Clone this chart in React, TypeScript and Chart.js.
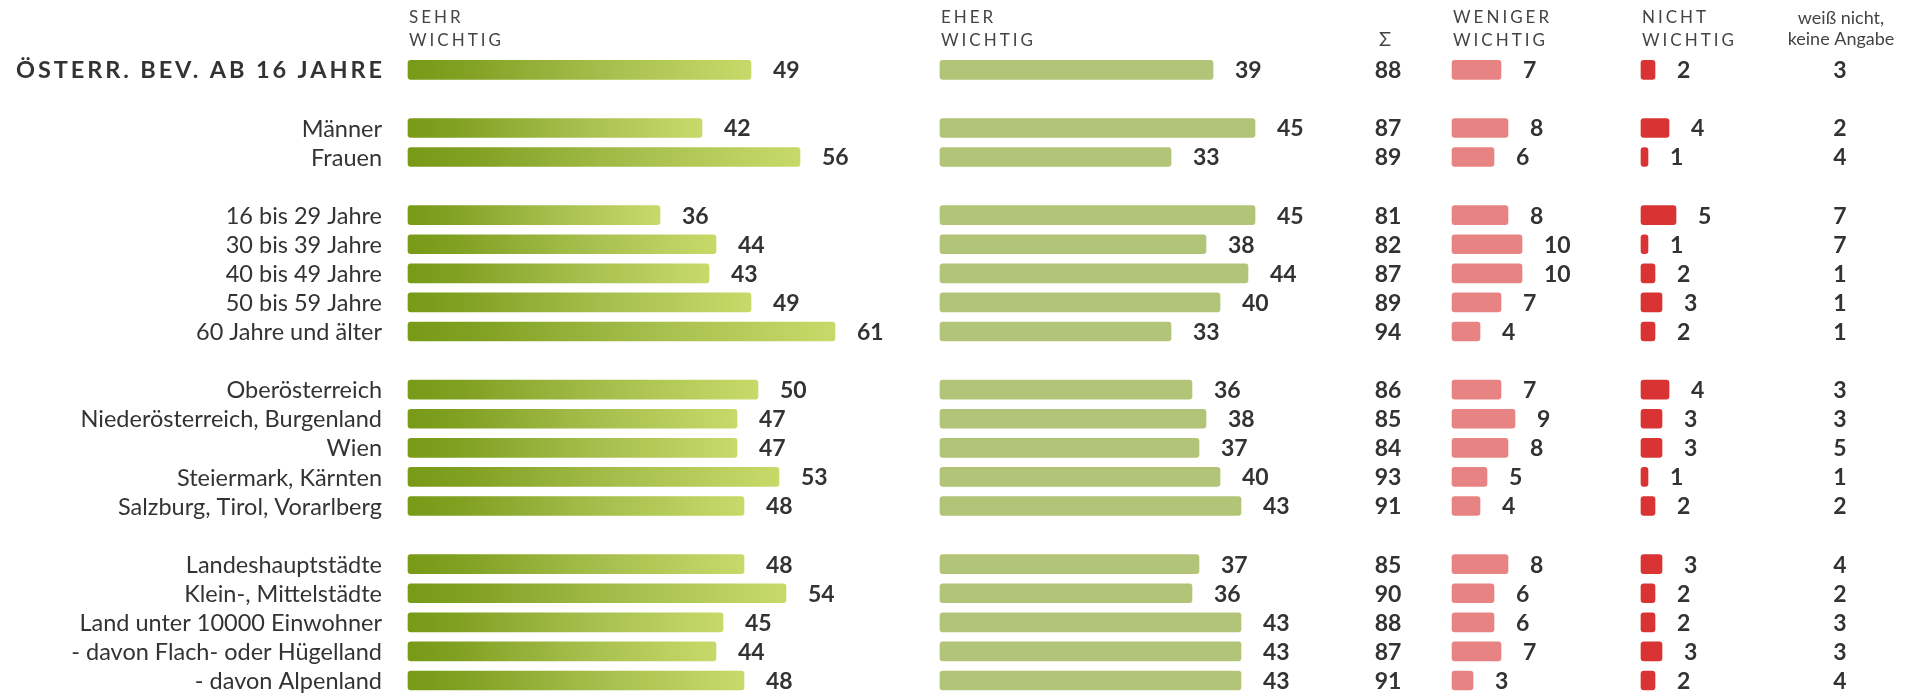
import React, { useEffect, useRef } from 'react';
import { Chart, registerables } from 'chart.js';

Chart.register(...registerables);

// ---------- data ----------
const rowLabels = [
  'ÖSTERR. BEV. AB 16 JAHRE', '',
  'Männer', 'Frauen', '',
  '16 bis 29 Jahre', '30 bis 39 Jahre', '40 bis 49 Jahre', '50 bis 59 Jahre', '60 Jahre und älter', '',
  'Oberösterreich', 'Niederösterreich, Burgenland', 'Wien', 'Steiermark, Kärnten', 'Salzburg, Tirol, Vorarlberg', '',
  'Landeshauptstädte', 'Klein-, Mittelstädte', 'Land unter 10000 Einwohner', '- davon Flach- oder Hügelland', '- davon Alpenland',
];
const sehrWichtig = [49, null, 42, 56, null, 36, 44, 43, 49, 61, null, 50, 47, 47, 53, 48, null, 48, 54, 45, 44, 48];
const eherWichtig = [39, null, 45, 33, null, 45, 38, 44, 40, 33, null, 36, 38, 37, 40, 43, null, 37, 36, 43, 43, 43];
const summe = [88, null, 87, 89, null, 81, 82, 87, 89, 94, null, 86, 85, 84, 93, 91, null, 85, 90, 88, 87, 91];
const wenigerWichtig = [7, null, 8, 6, null, 8, 10, 10, 7, 4, null, 7, 9, 8, 5, 4, null, 8, 6, 6, 7, 3];
const nichtWichtig = [2, null, 4, 1, null, 5, 1, 2, 3, 2, null, 4, 3, 3, 1, 2, null, 3, 2, 2, 3, 2];
const weissNicht = [3, null, 2, 4, null, 7, 7, 1, 1, 1, null, 3, 3, 5, 1, 2, null, 4, 2, 3, 3, 4];

const headerSehr = ['SEHR', 'WICHTIG'];
const headerEher = ['EHER', 'WICHTIG'];
const headerSumme = 'Σ';
const headerWeniger = ['WENIGER', 'WICHTIG'];
const headerNicht = ['NICHT', 'WICHTIG'];
const headerWeiss = ['weiß nicht,', 'keine Angabe'];

// ---------- layout / style ----------
const PX_PER_UNIT = 7;
const COLS = [
  { id: 'xSehr', width: 532 },
  { id: 'xEher', width: 384 },
  { id: 'xSum', width: 128 },
  { id: 'xWeniger', width: 189 },
  { id: 'xNicht', width: 120 },
  { id: 'xWeiss', width: 158 },
];
const TEXT = '#333333';
const HEADER = '#444444';
const FONT = 'Lato, "Open Sans", sans-serif';

const sehrGradient = (c: any) => {
  const fallback = '#a5bf4a';
  const chart = c.chart;
  const xs = chart && chart.scales && chart.scales.xSehr;
  if (!xs || c.type !== 'data' || c.raw == null) return fallback;
  const x0 = xs.getPixelForValue(0);
  const x1 = xs.getPixelForValue(c.raw);
  if (!Number.isFinite(x0) || !Number.isFinite(x1) || x1 <= x0) return fallback;
  const g = chart.ctx.createLinearGradient(x0, 0, x1, 0);
  g.addColorStop(0, '#789a17');
  g.addColorStop(0.15, '#80a021');
  g.addColorStop(0.55, '#a4bd4a');
  g.addColorStop(1, '#c7da69');
  return g;
};

const tablePlugin = {
  id: 'tableText',
  afterDatasetsDraw(chart: any) {
    const ctx = chart.ctx as CanvasRenderingContext2D & { letterSpacing?: string };
    const y = chart.scales.y;
    const area = chart.chartArea;
    ctx.save();
    ctx.fillStyle = TEXT;

    // row labels
    ctx.textAlign = 'right';
    ctx.textBaseline = 'middle';
    rowLabels.forEach((lab, i) => {
      if (!lab) return;
      const py = y.getPixelForValue(i) + 1;
      if (i === 0) {
        ctx.font = `700 23.5px ${FONT}`;
        ctx.letterSpacing = '2.9px';
        ctx.fillText(lab, area.left - 23, py);
        ctx.letterSpacing = '0px';
      } else {
        ctx.font = `400 23.5px ${FONT}`;
        ctx.fillText(lab, area.left - 26, py);
      }
    });

    // value labels next to bars
    ctx.textAlign = 'left';
    ctx.font = `700 23px ${FONT}`;
    chart.data.datasets.forEach((ds: any) => {
      const xs = chart.scales[ds.xAxisID];
      ds.data.forEach((v: number | null, i: number) => {
        if (v == null) return;
        ctx.fillText(String(v), xs.getPixelForValue(v) + 22, y.getPixelForValue(i) + 1);
      });
    });

    // text-only columns
    ctx.textAlign = 'center';
    const textCol = (id: string, vals: (number | null)[]) => {
      const xs = chart.scales[id];
      const cx = (xs.left + xs.right) / 2;
      vals.forEach((v, i) => {
        if (v == null) return;
        ctx.fillText(String(v), cx, y.getPixelForValue(i) + 1);
      });
    };
    textCol('xSum', summe);
    textCol('xWeiss', weissNicht);

    // headers
    ctx.fillStyle = HEADER;
    ctx.textBaseline = 'alphabetic';
    ctx.textAlign = 'left';
    ctx.font = `400 17px ${FONT}`;
    ctx.letterSpacing = '3px';
    const hdr = (id: string, lines: string[]) => {
      const xs = chart.scales[id];
      ctx.fillText(lines[0], xs.left + 1, 23);
      ctx.fillText(lines[1], xs.left + 1, 46);
    };
    hdr('xSehr', headerSehr);
    hdr('xEher', headerEher);
    hdr('xWeniger', headerWeniger);
    hdr('xNicht', headerNicht);
    ctx.letterSpacing = '0px';

    ctx.textAlign = 'center';
    const sx = chart.scales.xSum;
    ctx.font = `400 20px ${FONT}`;
    ctx.fillText(headerSumme, (sx.left + sx.right) / 2 - 3, 46);
    const wx = chart.scales.xWeiss;
    ctx.font = `400 18px ${FONT}`;
    ctx.fillText(headerWeiss[0], (wx.left + wx.right) / 2 + 1, 24);
    ctx.fillText(headerWeiss[1], (wx.left + wx.right) / 2 + 1, 45);

    ctx.restore();
  },
};

export default function App() {
  const ref = useRef<HTMLCanvasElement | null>(null);

  useEffect(() => {
    document.body.style.margin = '0';
    if (!ref.current) return;

    const scales: any = {
      y: {
        type: 'category',
        labels: rowLabels,
        offset: false,
        display: false,
        grid: { display: false },
      },
    };
    COLS.forEach((c) => {
      scales[c.id] = {
        type: 'linear',
        position: 'bottom',
        stack: 'cols',
        stackWeight: c.width,
        display: false,
        min: 0,
        max: c.width / PX_PER_UNIT,
        grid: { display: false },
      };
    });

    const common = {
      yAxisID: 'y',
      grouped: false,
      barThickness: 19,
      borderRadius: 3,
      borderSkipped: false,
      clip: false,
    };

    const chart = new Chart(ref.current, {
      type: 'bar',
      data: {
        labels: rowLabels,
        datasets: [
          { ...common, label: 'sehr wichtig', data: sehrWichtig, xAxisID: 'xSehr', backgroundColor: sehrGradient },
          { ...common, label: 'eher wichtig', data: eherWichtig, xAxisID: 'xEher', backgroundColor: '#b1c477' },
          { ...common, label: 'weniger wichtig', data: wenigerWichtig, xAxisID: 'xWeniger', backgroundColor: '#e88383' },
          { ...common, label: 'nicht wichtig', data: nichtWichtig, xAxisID: 'xNicht', backgroundColor: '#d93333' },
        ] as any,
      },
      options: {
        indexAxis: 'y',
        animation: false,
        responsive: false,
        devicePixelRatio: 1,
        layout: { padding: { left: 408, right: 0, top: 69.8, bottom: 12.5 } },
        scales,
        plugins: {
          legend: { display: false },
          tooltip: { enabled: false },
        },
      } as any,
      plugins: [tablePlugin],
    });

    return () => chart.destroy();
  }, []);

  return (
    <div style={{ width: 1919, height: 693, background: '#ffffff', overflow: 'hidden' }}>
      <canvas ref={ref} width={1919} height={693} style={{ display: 'block' }} />
    </div>
  );
}
